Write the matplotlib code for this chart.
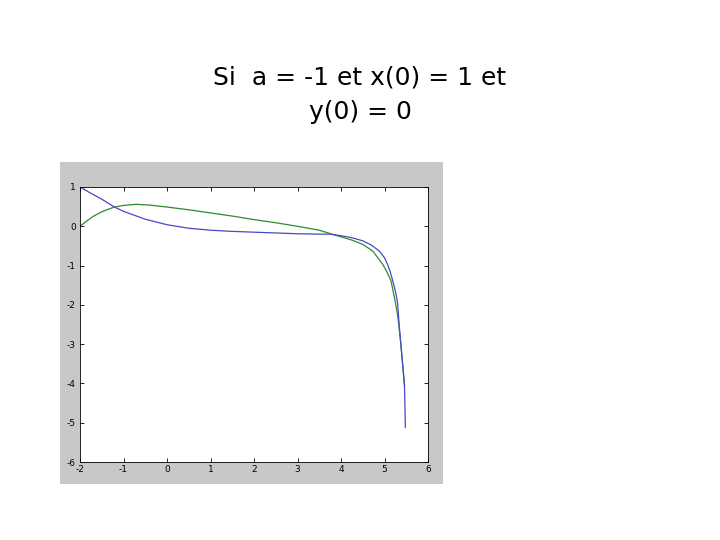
import matplotlib
matplotlib.use('Agg')
import matplotlib.pyplot as plt

plt.rcParams['axes.unicode_minus'] = False

# values
x_blue = [-2.0, -1.75, -1.5, -1.21, -1.0, -0.5, 0.0, 0.5, 1.0, 1.5, 2.0, 2.5, 3.0, 3.5, 3.74, 4.0, 4.25,
          4.5, 4.7, 4.88, 5.0, 5.07, 5.13, 5.19, 5.25, 5.3, 5.34, 5.38, 5.42, 5.46, 5.48]
y_blue = [1.0, 0.84, 0.69, 0.49, 0.38, 0.18, 0.04, -0.05, -0.1, -0.13, -0.15, -0.17, -0.19, -0.2, -0.2, -0.24, -0.29,
          -0.37, -0.48, -0.63, -0.8, -0.97, -1.15, -1.39, -1.65, -1.94, -2.55, -3.05, -3.55, -4.06, -5.12]
x_green = [-2.0, -1.85, -1.7, -1.5, -1.21, -1.0, -0.71, -0.4, 0.0, 0.5, 1.0, 1.5, 2.0, 2.5, 3.0, 3.5, 4.0, 4.25,
           4.5, 4.73, 4.96, 5.06, 5.15, 5.25, 5.3, 5.34, 5.38, 5.42, 5.46]
y_green = [0.0, 0.13, 0.25, 0.37, 0.49, 0.53, 0.56, 0.54, 0.49, 0.42, 0.34, 0.26, 0.17, 0.09, 0.0, -0.1, -0.27, -0.35,
           -0.46, -0.63, -0.97, -1.17, -1.39, -1.94, -2.25, -2.62, -3.05, -3.55, -4.06]
title_lines = ["Si  a = -1 et x(0) = 1 et", "y(0) = 0"]

fig = plt.figure(figsize=(7.2, 5.4), dpi=100)
fig.patch.set_facecolor('white')

# grey matlab figure panel behind the axes
bg = fig.add_axes([60 / 720, 1 - 484 / 540, 383 / 720, 322 / 540])
bg.set_facecolor('#c8c8c8')
bg.set_xticks([])
bg.set_yticks([])
for s in bg.spines.values():
    s.set_visible(False)

fig.text(0.5, 1 - 78 / 540, title_lines[0], ha='center', va='center', fontsize=18)
fig.text(0.5, 1 - 112 / 540, title_lines[1], ha='center', va='center', fontsize=18)

ax = fig.add_axes([80 / 720, 1 - 462 / 540, 348 / 720, 275 / 540])
ax.set_facecolor('white')
ax.plot(x_green, y_green, color='#2e8b2e', linewidth=0.9)
ax.plot(x_blue, y_blue, color='#4848c8', linewidth=0.9)

ax.set_xlim(-2, 6)
ax.set_ylim(-6, 1)
ax.set_xticks(range(-2, 7))
ax.set_yticks(range(-6, 2))
ax.tick_params(direction='in', length=3, width=0.6, labelsize=6.5,
               top=True, right=True, colors='black')
ax.tick_params(axis='x', pad=2)
ax.tick_params(axis='y', pad=3)
for s in ax.spines.values():
    s.set_linewidth(0.6)

fig.savefig('out.png', dpi=100)
